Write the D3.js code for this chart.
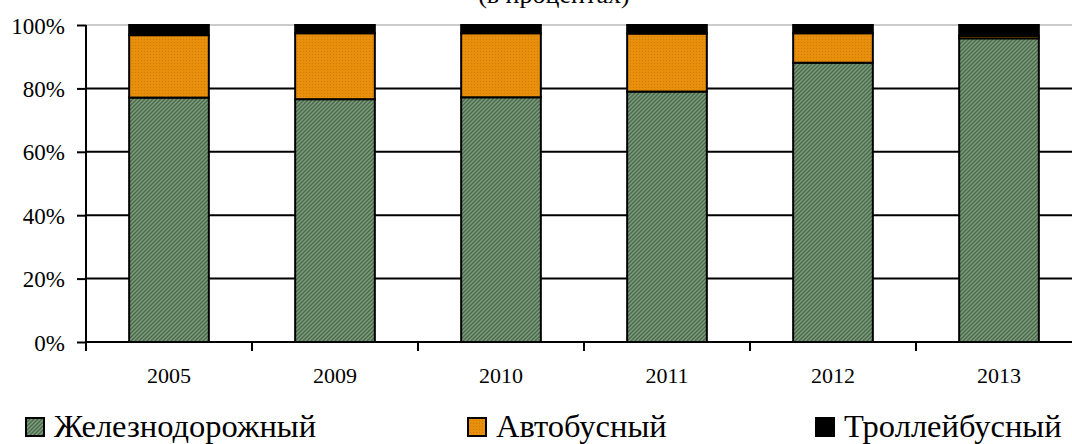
<!DOCTYPE html>
<html>
<head>
<meta charset="utf-8">
<script src="https://cdn.jsdelivr.net/npm/d3@7"></script>
<style>
body { margin: 0; background: #fff; }
svg, svg text { font-family: "Liberation Serif", "Times New Roman", serif; }
.axis path, .axis line { stroke: #000; stroke-width: 2px; }
.axis text { font-size: 23px; fill: #000; }
</style>
</head>
<body>
<svg id="chart" width="1072" height="444"></svg>
<script>
// data (percent)
var years = ["2005", "2009", "2010", "2011", "2012", "2013"];
var rail = [77.1, 76.6, 77.2, 79.0, 88.1, 95.8];
var bus = [19.7, 20.8, 20.2, 18.3, 9.3, 0.8];
var trolley = [3.2, 2.6, 2.6, 2.7, 2.6, 3.4];
var seriesNames = ["Железнодорожный", "Автобусный", "Троллейбусный"];
var yTicks = [0, 20, 40, 60, 80, 100];

var rows = years.map(function(y, i) {
  return { year: y, rail: rail[i], bus: bus[i], trolley: trolley[i] };
});

var svg = d3.select("#chart"),
    margin = {top: 25, left: 86, bottom: 102};
var plotH = 444 - margin.top - margin.bottom;

// patterns for the fills
var defs = svg.append("defs");
var pg = defs.append("pattern").attr("id", "pGreen").attr("patternUnits", "userSpaceOnUse")
  .attr("width", 4).attr("height", 4);
pg.append("rect").attr("width", 4).attr("height", 4).attr("fill", "#7c9a7c");
pg.append("path").attr("d", "M-1,1 l2,-2 M0,4 l4,-4 M3,5 l2,-2").attr("stroke", "#4a684a").attr("stroke-width", 1.3);

var po = defs.append("pattern").attr("id", "pOrange").attr("patternUnits", "userSpaceOnUse")
  .attr("width", 3).attr("height", 3);
po.append("rect").attr("width", 3).attr("height", 3).attr("fill", "#e8900c");
po.append("rect").attr("width", 1).attr("height", 1).attr("fill", "#d07c06");

var colors = ["url(#pGreen)", "url(#pOrange)", "#000"];

var x = d3.scaleBand()
  .domain(years)
  .range([margin.left, margin.left + 166 * years.length])
  .paddingInner(0.52).paddingOuter(0.26);

var y = d3.scaleLinear()
  .domain([0, 100])
  .range([margin.top + plotH, margin.top]);

// title (cut at the top edge, as in the source)
svg.append("text")
  .attr("x", 554).attr("y", 3)
  .attr("text-anchor", "middle")
  .attr("font-size", 26)
  .text("(в процентах)");

// gridlines
svg.append("g")
  .selectAll("line")
  .data(yTicks.filter(function(d) { return d > 0; }))
  .join("line")
  .attr("x1", margin.left).attr("x2", 1072)
  .attr("y1", function(d) { return y(d); })
  .attr("y2", function(d) { return y(d); })
  .attr("stroke", function(d) { return d === 100 ? "#bbb" : "#000"; })
  .attr("stroke-width", function(d) { return d === 100 ? 1.5 : 2; });

// stacked bars
var stack = d3.stack().keys(["rail", "bus", "trolley"]);
var layers = stack(rows);

svg.append("g")
  .selectAll("g")
  .data(layers)
  .join("g")
  .attr("fill", function(d, i) { return colors[i]; })
  .selectAll("rect")
  .data(function(d) { return d; })
  .join("rect")
  .attr("x", function(d) { return x(d.data.year); })
  .attr("width", x.bandwidth())
  .attr("y", function(d) { return y(d[1]); })
  .attr("height", function(d) { return y(d[0]) - y(d[1]); })
  .attr("stroke", "#000")
  .attr("stroke-width", 2);

// y axis
var yAxis = d3.axisLeft(y).tickValues(yTicks).tickSize(9).tickPadding(12)
  .tickFormat(function(d) { return d + "%"; });
var gy = svg.append("g").attr("class", "axis")
  .attr("transform", "translate(" + margin.left + ",0)")
  .call(yAxis);
gy.select(".domain").attr("d", "M0," + y(0) + "V" + y(100));
gy.selectAll("text")
  .attr("dy", "0.35em")
  .style("font-family", "'Liberation Serif', serif")
  .style("font-size", "23px");

// x axis
var boundaries = d3.range(years.length + 1).map(function(i) { return margin.left + 166 * i; });
var gx = svg.append("g").attr("class", "axis");
gx.append("line")
  .attr("x1", margin.left).attr("x2", 1072)
  .attr("y1", y(0)).attr("y2", y(0));
gx.selectAll(".tick")
  .data(boundaries)
  .join("line")
  .attr("class", "tick")
  .attr("x1", function(d) { return d; }).attr("x2", function(d) { return d; })
  .attr("y1", y(0)).attr("y2", y(0) + 9);
gx.selectAll(".lbl")
  .data(years)
  .join("text")
  .attr("class", "lbl")
  .attr("x", function(d) { return x(d) + x.bandwidth() / 2; })
  .attr("y", 383)
  .attr("text-anchor", "middle")
  .style("font-size", "22px")
  .text(function(d) { return d; });

// legend
var legendX = [25, 467, 815];
var lg = svg.append("g").selectAll("g")
  .data(seriesNames)
  .join("g")
  .attr("transform", function(d, i) { return "translate(" + legendX[i] + ",0)"; });
lg.append("rect")
  .attr("x", 1).attr("y", 418).attr("width", 18).attr("height", 18)
  .attr("fill", function(d, i) { return colors[i]; })
  .attr("stroke", "#000").attr("stroke-width", 2);
lg.append("text")
  .attr("x", 29).attr("y", 437)
  .attr("font-size", 32.5)
  .text(function(d) { return d; });
</script>
</body>
</html>
